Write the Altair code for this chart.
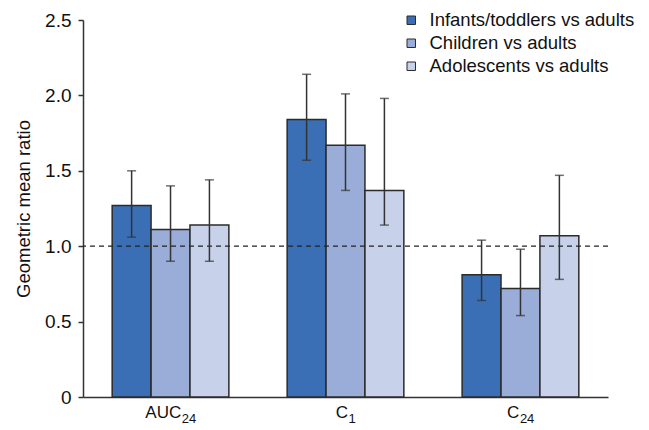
import altair as alt
import pandas as pd

params = ["AUC₂₄", "C₁", "C₂₄"]
label_main = ["AUC", "C", "C"]
label_sub = ["24", "1", "24"]
series = ["Infants/toddlers vs adults", "Children vs adults", "Adolescents vs adults"]
colors = ["#3b6fb5", "#99add8", "#c7d1ea"]

gmr = {
    "Infants/toddlers vs adults": [1.27, 1.84, 0.81],
    "Children vs adults": [1.11, 1.67, 0.72],
    "Adolescents vs adults": [1.14, 1.37, 1.07],
}
lower = {
    "Infants/toddlers vs adults": [1.06, 1.57, 0.64],
    "Children vs adults": [0.90, 1.37, 0.54],
    "Adolescents vs adults": [0.90, 1.14, 0.78],
}
upper = {
    "Infants/toddlers vs adults": [1.50, 2.14, 1.04],
    "Children vs adults": [1.40, 2.01, 0.98],
    "Adolescents vs adults": [1.44, 1.98, 1.47],
}

rows = []
for s in series:
    for i, p in enumerate(params):
        rows.append({"param": p, "series": s, "gmr": gmr[s][i],
                     "lo": lower[s][i], "hi": upper[s][i]})
df = pd.DataFrame(rows)

FONT = "Liberation Sans"
W, H = 525, 377
MAIN_FS, SUB_FS = 17, 13
# approximate Arial advance widths (em) for centering main+subscript labels
CW = {"A": 0.667, "U": 0.722, "C": 0.722, "1": 0.556, "2": 0.556, "4": 0.556}


def text_w(t, fs):
    return sum(CW.get(c, 0.556) for c in t) * fs


x = alt.X("param:N", sort=params, title=None,
          scale=alt.Scale(paddingInner=0.333, paddingOuter=0.1667),
          axis=alt.Axis(labels=False, ticks=False,
                        domainColor="#333333", domainWidth=1.5))
xo = alt.XOffset("series:N", sort=series, scale=alt.Scale(paddingInner=0, paddingOuter=0))

base = alt.Chart(df)

bars = base.mark_bar(stroke="#2b2b2b", strokeWidth=1.5).encode(
    x=x,
    xOffset=xo,
    y=alt.Y("gmr:Q", title="Geometric mean ratio",
            scale=alt.Scale(domain=[0, 2.5], nice=False),
            axis=alt.Axis(values=[0, 0.5, 1.0, 1.5, 2.0, 2.5],
                          labelExpr="datum.value == 0 ? '0' : format(datum.value, '.1f')",
                          grid=False, tickSize=5, labelPadding=7, labelFontSize=19,
                          titleFontSize=18.5, titleFontWeight="normal", titlePadding=11,
                          domainColor="#333333", domainWidth=1.5,
                          tickColor="#333333", tickWidth=1.5)),
    fill=alt.Fill("series:N", sort=series,
                  scale=alt.Scale(domain=series, range=colors),
                  legend=alt.Legend(title=None, orient="none", legendX=319, legendY=-9,
                                    symbolType="square", symbolSize=72,
                                    symbolStrokeColor="#2b2b2b", symbolStrokeWidth=1,
                                    symbolOpacity=1,
                                    labelFontSize=18.5, labelOffset=9, rowPadding=4,
                                    labelLimit=400, padding=0)),
)

ref = alt.Chart(pd.DataFrame({"y": [1.0]})).mark_rule(
    color="#222222", strokeDash=[5, 4], strokeWidth=1.2
).encode(y="y:Q")

stems = base.mark_rule(color="#333333", strokeWidth=1.5).encode(
    x=x, xOffset=xo, y="lo:Q", y2="hi:Q"
)
cap_lo = base.mark_tick(color="#333333", size=9, thickness=1.5, orient="horizontal").encode(
    x=x, xOffset=xo, y="lo:Q"
)
cap_hi = base.mark_tick(color="#333333", size=9, thickness=1.5, orient="horizontal").encode(
    x=x, xOffset=xo, y="hi:Q"
)

label_layers = []
for p, m, s in zip(params, label_main, label_sub):
    d = (text_w(m, MAIN_FS) - text_w(s, SUB_FS)) / 2
    ldf = pd.DataFrame({"param": [p], "main": [m], "sub": [s]})
    lc = alt.Chart(ldf)
    label_layers.append(
        lc.mark_text(align="right", baseline="alphabetic", fontSize=MAIN_FS,
                     color="#111111", dx=d).encode(x=x, y=alt.value(H + 21), text="main:N")
    )
    label_layers.append(
        lc.mark_text(align="left", baseline="alphabetic", fontSize=SUB_FS,
                     color="#111111", dx=d + 0.5).encode(x=x, y=alt.value(H + 26), text="sub:N")
    )

chart = alt.layer(bars, ref, stems, cap_lo, cap_hi, *label_layers).properties(
    width=W, height=H,
    autosize=alt.AutoSizeParams(type="none"),
    padding={"left": 75, "top": 12, "right": 30, "bottom": 32},
).configure(
    font=FONT,
).configure_view(stroke=None).configure_axis(
    labelColor="#111111", titleColor="#111111", labelFont=FONT, titleFont=FONT
).configure_legend(labelFont=FONT, labelColor="#111111")

chart.save("out.html", embed_options={"renderer": "svg", "actions": False})
